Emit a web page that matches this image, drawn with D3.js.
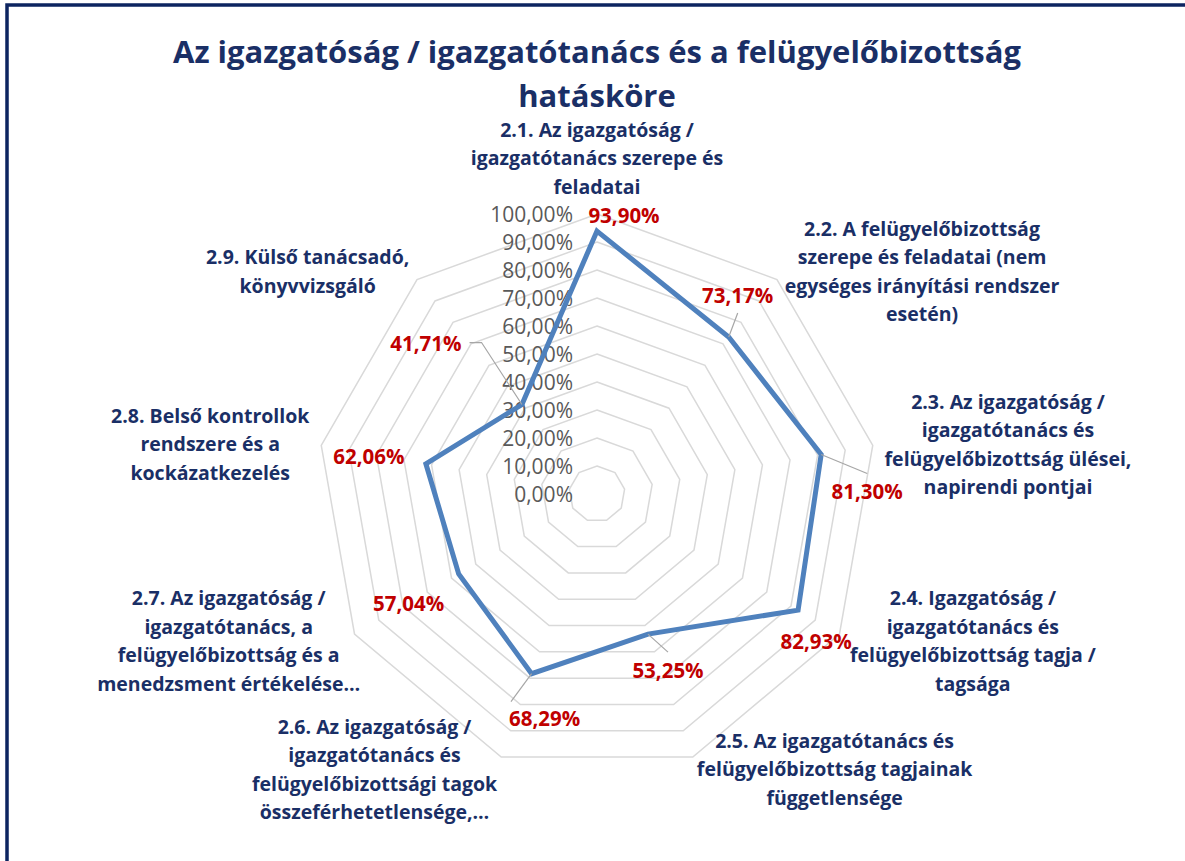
<!DOCTYPE html>
<html>
<head>
<meta charset="utf-8">
<script src="https://cdn.jsdelivr.net/npm/d3@7"></script>
<style>
  body { margin: 0; background: #fff; }
  svg { display: block; }
  text { font-family: "Open Sans", Lato, sans-serif; }
</style>
</head>
<body>
<svg id="chart" width="1185" height="861"></svg>
<script>
// chart data
const titleLines = ["Az igazgatóság / igazgatótanács és a felügyelőbizottság", "hatásköre"];

const categories = [
  ["2.1. Az igazgatóság /", "igazgatótanács szerepe és", "feladatai"],
  ["2.2. A felügyelőbizottság", "szerepe és feladatai (nem", "egységes irányítási rendszer", "esetén)"],
  ["2.3. Az igazgatóság /", "igazgatótanács és", "felügyelőbizottság ülései,", "napirendi pontjai"],
  ["2.4. Igazgatóság /", "igazgatótanács és", "felügyelőbizottság tagja /", "tagsága"],
  ["2.5. Az igazgatótanács és", "felügyelőbizottság tagjainak", "függetlensége"],
  ["2.6. Az igazgatóság /", "igazgatótanács és", "felügyelőbizottsági tagok", "összeférhetetlensége,…"],
  ["2.7. Az igazgatóság /", "igazgatótanács, a", "felügyelőbizottság és a", "menedzsment értékelése…"],
  ["2.8. Belső kontrollok", "rendszere és a", "kockázatkezelés"],
  ["2.9. Külső tanácsadó,", "könyvvizsgáló"]
];

const values = [0.9390, 0.7317, 0.8130, 0.8293, 0.5325, 0.6829, 0.5704, 0.6206, 0.4171];

// where each data label was dragged to (relative to its point) and how its leader line runs
const labelOffsets = [[27, -16], [9, -42], [46, 37], [18, 31], [20, 36], [13, 44], [-50, 29], [-57, -8], [-96, -62]];
const leaderTypes = ["none", "bottom", "top", "none", "top", "topleft", "none", "none", "right"];

// small extra nudges for category labels
const categoryNudge = [[0, -2], [0, 0], [0, 0], [0, 0], [0, 0], [0, 0], [16, 0], [0, 0], [0, 0]];

const navy = "#1a2f66";
const red = "#c00000";

const svg = d3.select("#chart");
const W = +svg.attr("width"), H = +svg.attr("height");

// outer frame
svg.append("rect")
  .attr("x", 7).attr("y", 5)
  .attr("width", W + 20).attr("height", H + 20)
  .attr("fill", "none")
  .attr("stroke", "#0d2460")
  .attr("stroke-width", 3.5);

// title
svg.append("g").selectAll("text")
  .data(titleLines)
  .enter().append("text")
  .attr("x", 597)
  .attr("y", (d, i) => 51 + i * 44)
  .attr("text-anchor", "middle")
  .attr("dominant-baseline", "central")
  .attr("font-size", 31)
  .attr("font-weight", "bold")
  .attr("fill", navy)
  .text(d => d);

const cx = 597, cy = 494, R = 280;
const n = categories.length;
const r = d3.scaleLinear().domain([0, 1]).range([0, R]);
const angle = i => i * 2 * Math.PI / n;
function pt(i, v) {
  return [cx + r(v) * Math.sin(angle(i)), cy - r(v) * Math.cos(angle(i))];
}
function ptR(i, rad) {
  return [cx + rad * Math.sin(angle(i)), cy - rad * Math.cos(angle(i))];
}

const ticks = r.ticks(10);
const pct = d3.formatLocale({decimal: ",", thousands: " ", grouping: [3], currency: ["", ""]}).format(".2%");

// grid rings
const ring = d3.line().curve(d3.curveLinearClosed);
svg.append("g").selectAll("path")
  .data(ticks.slice(1))
  .enter().append("path")
  .attr("d", t => ring(d3.range(n).map(i => pt(i, t))))
  .attr("fill", "none")
  .attr("stroke", "#d9d9d9")
  .attr("stroke-width", 1.5);

// tick labels
svg.append("g").selectAll("text")
  .data(ticks)
  .enter().append("text")
  .attr("x", 573)
  .attr("y", t => cy - r(t))
  .attr("text-anchor", "end")
  .attr("dominant-baseline", "central")
  .attr("font-size", 21)
  .attr("fill", "#595959")
  .text(t => pct(t));

// series
const pts = values.map((v, i) => pt(i, v));
svg.append("path")
  .attr("d", ring(pts))
  .attr("fill", "none")
  .attr("stroke", "#4f81bd")
  .attr("stroke-width", 5)
  .attr("stroke-linejoin", "miter");

// data labels + leader lines
const dl = svg.append("g");
values.forEach((v, i) => {
  const [px, py] = pts[i];
  const lx = px + labelOffsets[i][0], ly = py + labelOffsets[i][1];
  const t = dl.append("text")
    .attr("x", lx).attr("y", ly)
    .attr("text-anchor", "middle")
    .attr("dominant-baseline", "central")
    .attr("font-size", 20.5)
    .attr("font-weight", "bold")
    .attr("fill", red)
    .text(pct(v));
  const bb = t.node().getBBox();
  const gap = 8;
  let path = null;
  if (leaderTypes[i] === "bottom") path = [[px, py], [lx, ly + 10 + gap]];
  if (leaderTypes[i] === "top") path = [[px, py], [lx, ly - 10 - gap]];
  if (leaderTypes[i] === "topleft") path = [[px, py], [bb.x + 2, ly - 10 - gap + 2]];
  if (leaderTypes[i] === "right") path = [[px, py], [bb.x + bb.width + gap + 12, ly], [bb.x + bb.width + gap, ly]];
  if (path) {
    dl.insert("path", "text")
      .attr("d", d3.line()(path))
      .attr("fill", "none")
      .attr("stroke", "#a6a6a6")
      .attr("stroke-width", 1.2);
  }
});

// category labels
const lh = 28.5;
const cg = svg.append("g");
categories.forEach((lines, i) => {
  const t = cg.append("text")
    .attr("text-anchor", "middle")
    .attr("dominant-baseline", "central")
    .attr("font-size", 19.5)
    .attr("font-weight", "bold")
    .attr("fill", navy);
  lines.forEach(l => t.append("tspan").text(l));
  const w = d3.max(t.selectAll("tspan").nodes(), s => s.getComputedTextLength());
  const h = lines.length * lh;
  const [ax, ay] = ptR(i, R + 12);
  const s = Math.sin(angle(i)), c = Math.cos(angle(i));
  let bx, top;
  if (Math.abs(s) < 0.1) {
    bx = ax;
    top = c > 0 ? ay - h : ay;
  } else {
    bx = s > 0 ? ax + w / 2 : ax - w / 2;
    top = ay - h / 2;
  }
  bx += categoryNudge[i][0];
  top += categoryNudge[i][1];
  t.selectAll("tspan")
    .attr("x", bx)
    .attr("y", (d, k) => top + lh * (k + 0.5));
});
</script>
</body>
</html>
